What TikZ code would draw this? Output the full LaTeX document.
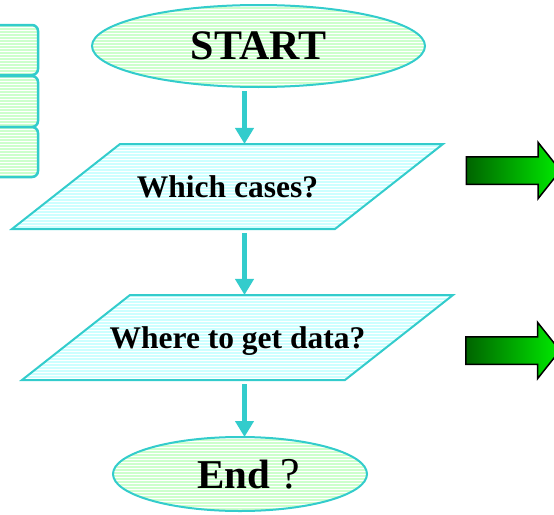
\documentclass[tikz,border=0pt]{standalone}
\usepackage{fontspec}
\setmainfont{Liberation Serif}
\usetikzlibrary{shapes.geometric,shapes.arrows,patterns,arrows.meta}

\definecolor{flowline}{RGB}{51,204,204}
\definecolor{paleGreen}{RGB}{204,255,204}
\definecolor{paleCyan}{RGB}{204,255,255}
\definecolor{darkArrow}{RGB}{0,100,0}
\definecolor{lightArrow}{RGB}{0,235,0}

\newcommand\qtext[1]{\makebox[215pt]{\fontsize{31.5}{36}\selectfont\bfseries #1}}

\begin{document}
\begin{tikzpicture} [x=1pt, y=-1pt,
    striped/.style={preaction={fill=#1}, pattern=horizontal lines, pattern color=white, draw=flowline, line width=2pt},
    terminal/.style={ellipse, striped=paleGreen, inner sep=0pt},
    io/.style={trapezium, trapezium left angle=38.2, trapezium right angle=141.8, trapezium stretches body,
        striped=paleCyan, minimum width=431pt, inner xsep=0pt, inner ysep=31.5pt, text height=22pt, text depth=0pt},
    tab/.style={rectangle, rounded corners=6pt, striped=paleGreen, line width=2.5pt, minimum width=58pt},
    flow/.style={draw=flowline, line width=5pt, shorten <=3pt, shorten >=-1pt, -{Triangle[width=18pt,length=16pt]}},
    bigarrow/.style={single arrow, draw=black, line width=1.5pt, left color=darkArrow, right color=lightArrow,
        minimum height=94pt, single arrow head extend=14.5pt, single arrow tip angle=103, inner xsep=0pt, inner ysep=13pt}]
                        \useasboundingbox (0,0) rectangle (554,514);

                        % Tabs
                        \node [tab, minimum height=50pt] (tab1) at (9,50) {};
                        \node [tab, minimum height=51pt] (tab2) at (9,101.5) {};
                        \node [tab, minimum height=50pt] (tab3) at (9,152) {};

                        % Terminals
                        \node [terminal, minimum width=333pt, minimum height=82pt] (start) at (258.5,46)
                            {\fontsize{42}{48}\selectfont\bfseries\raisebox{-2pt}{START}};
                        \node [terminal, minimum width=254pt, minimum height=74pt] (end) at (240,474)
                            {\fontsize{41}{48}\selectfont\bfseries\hspace*{18pt}End {\fontsize{44}{48}\selectfont\mdseries ?}};

                        % Questions
                        \node [io] (cases) at (227.5,186.5) {\qtext{Which cases?}};
                        \node [io] (data) at (237.5,337.5) {\qtext{Where to get data?}};

                        % Flow
                        \coordinate (axis) at (244.5,0);
                        \draw [flow] (start.south -| axis) -- (cases.north -| axis);
                        \draw [flow] (cases.south -| axis) -- (data.north -| axis);
                        \draw [flow] (data.south -| axis) -- (end.north -| axis);

                        % Arrows
                        \node [bigarrow] (more1) at (508,170.5) {};
                        \node [bigarrow] (more2) at (507.5,350.5) {};
                    \end{tikzpicture}
\end{document}
